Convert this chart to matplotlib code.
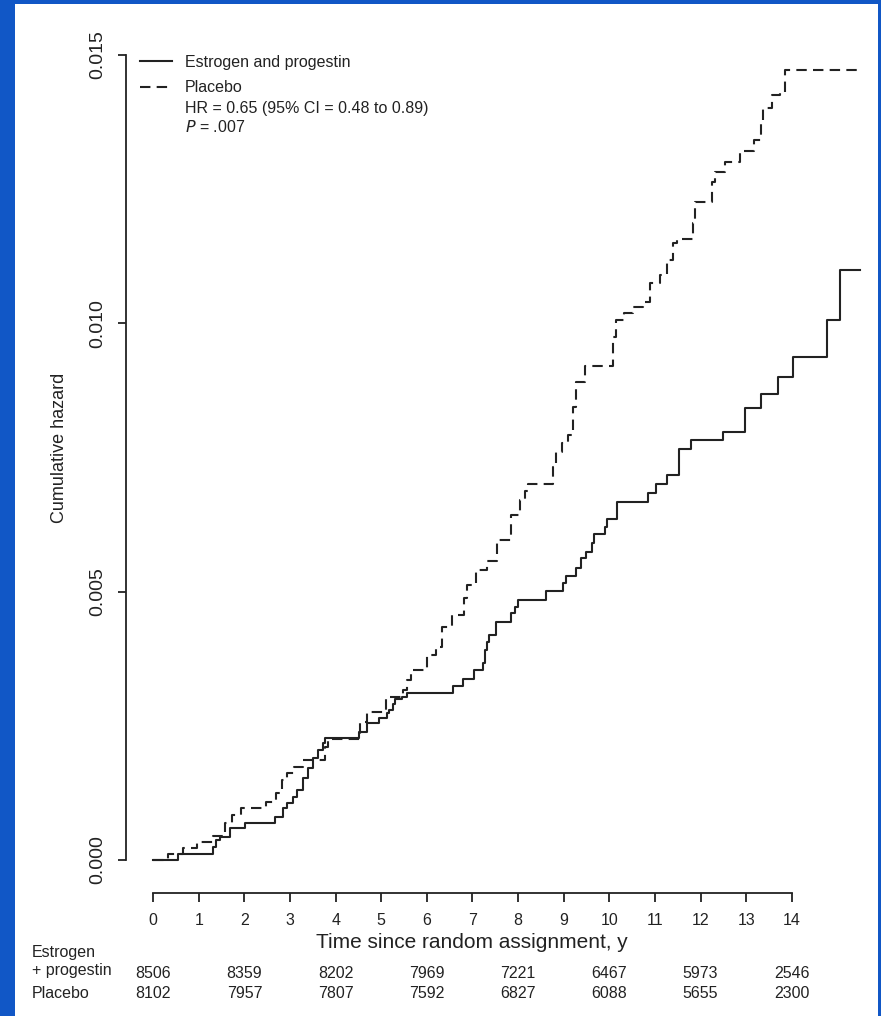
import matplotlib
matplotlib.use("Agg")
import matplotlib.pyplot as plt
from matplotlib.lines import Line2D
from matplotlib.patches import Rectangle
from matplotlib.transforms import blended_transform_factory

plt.rcParams['font.family'] = ['Liberation Sans', 'DejaVu Sans']

# cumulative hazard step curves (years, hazard)
ep_time = [0, 0.54, 1.31, 1.37, 1.46, 1.68, 2.01, 2.67, 2.84, 2.93, 3.06, 3.15,
           3.28, 3.39, 3.50, 3.61, 3.72, 3.77, 4.51, 4.69, 4.95, 5.12, 5.17, 5.25,
           5.30, 5.45, 5.56, 6.57, 6.79, 7.03, 7.23, 7.27, 7.32, 7.36, 7.52, 7.84,
           7.93, 8.00, 8.62, 8.98, 9.05, 9.27, 9.38, 9.49, 9.62, 9.66, 9.90, 9.95,
           10.17, 10.85, 11.02, 11.26, 11.53, 11.79, 12.49, 12.98, 13.32, 13.70,
           14.03, 14.77, 15.06, 15.50]
ep_haz = [0, 0.000112, 0.000242, 0.000373, 0.000429, 0.000596, 0.000689, 0.000801,
          0.000969, 0.001062, 0.001174, 0.001304, 0.001528, 0.001714, 0.001901,
          0.002050, 0.002180, 0.002273, 0.002385, 0.002553, 0.002646, 0.002739,
          0.002795, 0.002907, 0.003000, 0.003037, 0.003112, 0.003242, 0.003373,
          0.003540, 0.003671, 0.003913, 0.004062, 0.004193, 0.004435, 0.004602,
          0.004714, 0.004845, 0.005012, 0.005161, 0.005292, 0.005441, 0.005627,
          0.005739, 0.005907, 0.006075, 0.006205, 0.006354, 0.006671, 0.006838,
          0.007006, 0.007174, 0.007658, 0.007826, 0.007975, 0.008422, 0.008683,
          0.009000, 0.009373, 0.010062, 0.010994, 0.010994]

pl_time = [0, 0.32, 0.65, 0.96, 1.31, 1.57, 1.73, 1.93, 2.47, 2.69, 2.82, 2.93,
           3.09, 3.28, 3.77, 3.83, 4.53, 4.69, 5.10, 5.48, 5.56, 5.65, 6.00, 6.20,
           6.33, 6.55, 6.81, 6.88, 7.08, 7.32, 7.54, 7.84, 8.04, 8.15, 8.22, 8.76,
           8.83, 8.96, 9.09, 9.20, 9.27, 9.47, 10.08, 10.15, 10.32, 10.52, 10.74,
           10.89, 11.11, 11.26, 11.40, 11.48, 11.84, 11.88, 12.25, 12.32, 12.54,
           12.86, 13.17, 13.32, 13.37, 13.57, 13.74, 13.85, 15.45]
pl_haz = [0, 0.000112, 0.000224, 0.000335, 0.000447, 0.000689, 0.000839, 0.000969,
          0.001081, 0.001248, 0.001491, 0.001621, 0.001733, 0.001863, 0.002106,
          0.002255, 0.002571, 0.002758, 0.003037, 0.003168, 0.003354, 0.003540,
          0.003820, 0.003969, 0.004342, 0.004565, 0.004882, 0.005124, 0.005404,
          0.005571, 0.005963, 0.006428, 0.006708, 0.006876, 0.007006, 0.007323,
          0.007602, 0.007770, 0.007919, 0.008441, 0.008907, 0.009205, 0.009745,
          0.010062, 0.010193, 0.010304, 0.010398, 0.010752, 0.010900, 0.011180,
          0.011497, 0.011571, 0.011870, 0.012261, 0.012634, 0.012820, 0.013006,
          0.013211, 0.013416, 0.013789, 0.014012, 0.014255, 0.014292, 0.014720,
          0.014720]

# numbers at risk
risk_years = [0, 2, 4, 6, 8, 10, 12, 14]
risk_ep = [8506, 8359, 8202, 7969, 7221, 6467, 5973, 2546]
risk_pl = [8102, 7957, 7807, 7592, 6827, 6088, 5655, 2300]

W, H = 881, 1016
ink = '#222222'

fig = plt.figure(figsize=(W / 100, H / 100), dpi=100, facecolor='#1157c6')
fig.patches.append(Rectangle((15 / W, 0), 863 / W, 1 - 4 / H,
                             transform=fig.transFigure, facecolor='white',
                             edgecolor='none', zorder=-5))

ax = fig.add_axes([0.1429, 0.1208, 0.8386, 0.8356])
ax.set_zorder(2)
ax.set_facecolor('none')
ax.step(ep_time, ep_haz, where='post', color=ink, lw=1.5)
ax.step(pl_time, pl_haz, where='post', color=ink, lw=1.5, linestyle=(0, (5, 3)))

ax.set_xlim(-0.6, 15.6)
ax.set_ylim(-0.00062, 0.0152)
ax.set_xticks(range(0, 15))
ax.set_yticks([0, 0.005, 0.010, 0.015])
ax.set_yticklabels(['0.000', '0.005', '0.010', '0.015'])

for s in ['top', 'right']:
    ax.spines[s].set_visible(False)
ax.spines['left'].set_bounds(0, 0.015)
ax.spines['bottom'].set_bounds(0, 14)
for s in ['left', 'bottom']:
    ax.spines[s].set_color(ink)
    ax.spines[s].set_linewidth(1.3)

ax.tick_params(axis='x', direction='out', length=6.5, width=1.3, color=ink,
               labelsize=11.5, labelcolor=ink, pad=8)
ax.tick_params(axis='y', direction='out', length=6, width=1.3, color=ink,
               labelsize=14, labelcolor=ink, pad=8, labelrotation=90)
for lab in ax.get_yticklabels():
    lab.set_va('center')

fig.text(472 / W, 1 - 942 / H, 'Time since random assignment, y', fontsize=15,
         color=ink, ha='center', va='center')
fig.text(60 / W, 1 - 448 / H, 'Cumulative hazard', fontsize=13, color=ink,
         ha='center', va='center', rotation=90)

# legend block
leg = ax.legend(handles=[Line2D([], [], color=ink, lw=1.5),
                         Line2D([], [], color=ink, lw=1.5, linestyle=(0, (5, 3)))],
                labels=['Estrogen and progestin', 'Placebo'],
                loc='upper left', bbox_to_anchor=(140 / W, 1 - 55 / H),
                bbox_transform=fig.transFigure, frameon=False, fontsize=11.5,
                handlelength=2.0, handletextpad=0.8, labelspacing=0.65,
                borderpad=0, borderaxespad=0)
for t in leg.get_texts():
    t.set_color(ink)
fig.text(185 / W, 1 - 108 / H, 'HR = 0.65 (95% CI = 0.48 to 0.89)', fontsize=11.5,
         color=ink, va='center')
fig.text(185 / W, 1 - 127 / H, r'$\it{P}$ = .007', fontsize=11.5, color=ink,
         va='center')

# number at risk table
tr = blended_transform_factory(ax.transData, fig.transFigure)
fig.text(32 / W, 1 - 952 / H, 'Estrogen', fontsize=11.5, color=ink, va='center')
fig.text(32 / W, 1 - 971 / H, '+ progestin', fontsize=11.5, color=ink, va='center')
fig.text(32 / W, 1 - 993 / H, 'Placebo', fontsize=11.5, color=ink, va='center')
for yr, a, b in zip(risk_years, risk_ep, risk_pl):
    ax.text(yr, 1 - 973 / H, str(a), transform=tr, fontsize=11.5, color=ink,
            ha='center', va='center', clip_on=False)
    ax.text(yr, 1 - 994 / H, str(b), transform=tr, fontsize=11.5, color=ink,
            ha='center', va='center', clip_on=False)

fig.savefig('out.png', dpi=100, facecolor=fig.get_facecolor())
